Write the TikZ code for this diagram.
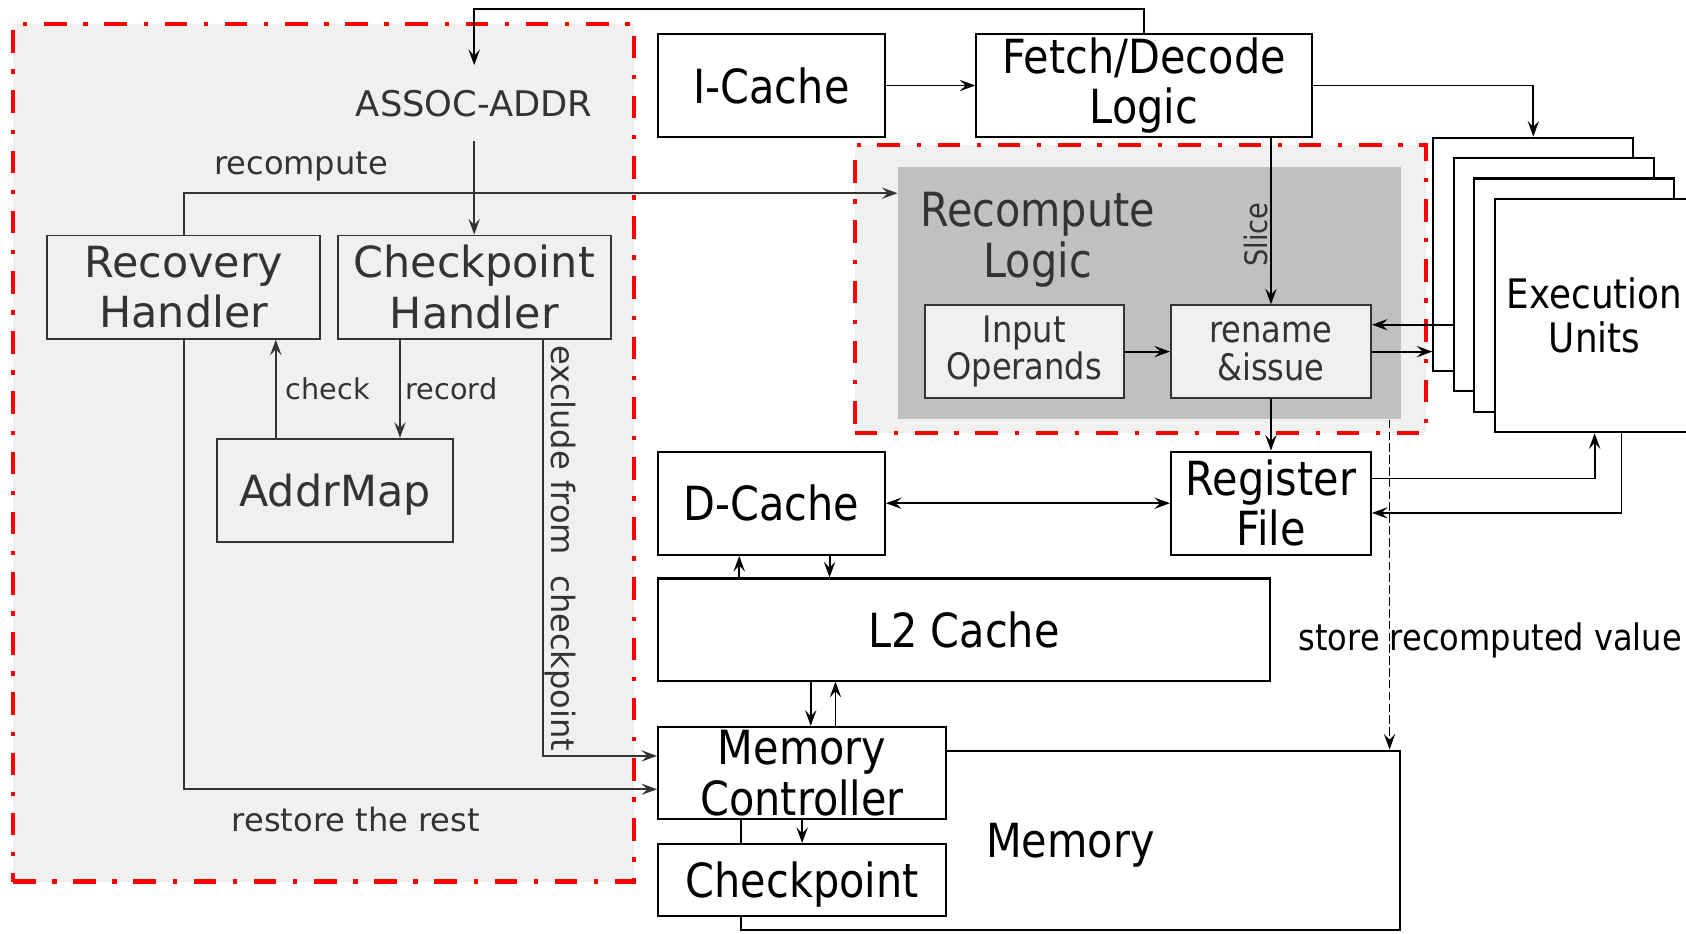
\documentclass[tikz,border=0pt]{standalone}
\usepackage{fontspec}
\setmainfont{DejaVu Sans}
\newfontfamily\condfont[FakeStretch=0.88]{DejaVu Sans}
\usetikzlibrary{arrows.meta,calc}
\definecolor{panel}{HTML}{F0F0F0}
\definecolor{darkpanel}{HTML}{C0C0C0}
\definecolor{ink}{HTML}{333333}
\newcommand\ftLbig{\fontsize{22.7pt}{26.6pt}\selectfont}
\newcommand\ftLmid{\fontsize{18.7pt}{22pt}\selectfont}
\newcommand\ftLsmall{\fontsize{17pt}{20pt}\selectfont}
\newcommand\ftLtiny{\fontsize{15.2pt}{18pt}\selectfont}
\newcommand\ftRbig{\condfont\fontsize{24.9pt}{26.6pt}\selectfont}
\newcommand\ftRmid{\condfont\fontsize{19.3pt}{19.8pt}\selectfont}
\newcommand\ftReu{\condfont\fontsize{21.5pt}{23.2pt}\selectfont}
\newcommand\ftRslice{\condfont\fontsize{16.4pt}{18pt}\selectfont}
\begin{document}
\begin{tikzpicture}[x=0.02cm,y=-0.02cm,
  lbox/.style={draw=ink, line width=1pt, inner sep=0pt, text=ink, font=\ftLbig, align=center},
  rbox/.style={draw=black, fill=white, line width=1.1pt, inner sep=0pt, font=\ftRbig, align=center},
  ibox/.style={draw=ink, fill=panel, line width=1.1pt, inner sep=0pt, text=ink, font=\ftRmid, align=center},
  redframe/.style={draw=red, line width=0.08cm, dash pattern=on 0.42cm off 0.31cm on 0.08cm off 0.31cm, inner sep=0pt},
  arr/.style={-{Stealth[length=0.29cm,width=0.21cm,inset=0.11cm]}, line width=1pt},
  larr/.style={arr, draw=ink},
  darr/.style={{Stealth[length=0.29cm,width=0.21cm,inset=0.11cm]}-{Stealth[length=0.29cm,width=0.21cm,inset=0.11cm]}, line width=1pt},
  dsh/.style={arr, dash pattern=on 0.16cm off 0.06cm, line width=0.75pt},
  ltxt/.style={text=ink},
  sz/.style n args={2}{minimum width=#1cm, minimum height=#2cm},
]
\useasboundingbox (0,0) rectangle (1568,868);
\clip (0,0) rectangle (1568,868);

% ---------- left panel ----------
\node[redframe, fill=panel, sz={11.56}{15.96}] (lp) at (301,421) {};
\node[lbox, sz={5.08}{1.92}] (rh) at (171,267) {Recovery\\Handler};
\node[lbox, sz={5.08}{1.92}] (ch) at (441,267) {Checkpoint\\Handler};
\node[lbox, sz={4.38}{1.92}, text depth=0pt] (am) at (311.5,456) {AddrMap};
\node[ltxt, font=\ftLmid, minimum height=1.4cm] (assoc) at (441,96) {ASSOC-ADDR};
\node[ltxt, font=\ftLsmall] (lrc) at (280,155) {recompute};
\node[ltxt, font=\ftLtiny] (lck) at (305,362) {check};
\node[ltxt, font=\ftLtiny] (lrd) at (420,362) {record};
\node[ltxt, font=\ftLsmall] (lrr) at (331,762) {restore the rest};
\node[ltxt, font=\ftLsmall, rotate=-90, inner sep=0pt] (lex) at (521,510) {exclude from~ checkpoint};

% ---------- recompute region ----------
\node[redframe, fill=panel, sz={10.62}{5.36}] (rr) at (1060.5,269) {};
\node[fill=darkpanel, inner sep=0pt, sz={9.36}{4.7}] (rl) at (1069,272.5) {};
\node[ltxt, font=\ftRbig, align=center] (rlt) at (965,223) {Recompute\\Logic};
\node[ibox, sz={3.7}{1.72}] (io) at (952.5,327) {Input\\Operands};
\node[ibox, sz={3.72}{1.72}] (ri) at (1182,327) {rename\\\&issue};
\node[ltxt, font=\ftRslice, rotate=90, inner sep=0pt] (slice) at (1168,218) {Slice};

% ---------- right boxes ----------
\node[rbox, sz={4.22}{1.9}] (ic) at (717.5,79.5) {I-Cache};
\node[rbox, sz={6.24}{1.9}] (fd) at (1064,79.5) {Fetch/Decode\\Logic};
\node[rbox, sz={3.72}{4.34}] (eu1) at (1426,236.5) {};
\node[rbox, sz={3.72}{4.34}] (eu2) at (1445,255.5) {};
\node[rbox, sz={3.72}{4.34}] (eu3) at (1464,274.5) {};
\node[rbox, sz={3.72}{4.34}, font=\ftReu] (eu4) at (1483,293.5) {Execution\\Units};
\node[rbox, sz={4.22}{1.92}] (dc) at (717.5,468) {D-Cache};
\node[rbox, sz={3.72}{1.92}] (rf) at (1182,468) {Register\\File};
\node[rbox, sz={11.38}{1.9}] (l2) at (896.5,585.5) {L2 Cache};
\node[rbox, sz={12.26}{3.34}, text depth=0pt] (mem) at (995.5,781.5) {Memory};
\node[rbox, sz={5.36}{1.72}] (mc) at (746,719) {Memory\\Controller};
\node[rbox, sz={5.36}{1.34}, text depth=0pt] (cp) at (746,818.5) {Checkpoint};
\node[font=\ftRmid] (srv) at (1386,596) {store recomputed value};

% ---------- connectors: right ----------
\draw[arr] (ic.east) -- (fd.west);
\draw[arr] (fd.north) -- ++(0,-23) -| (assoc.north);
\draw[arr] (fd.east) -| (eu1.north);
\draw[arr] (ri.north |- fd.south) -- (ri.north);
\draw[arr] (io.east) -- (ri.west);
\draw[arr] (ri.east) -- (ri.east -| eu1.west);
\coordinate (ret) at ($(ri.east)+(0,-25)$);
\draw[arr] (ret -| eu2.west) -- (ret);
\draw[arr] (ri.south) -- (rf.north);
\draw[darr] (dc.east) -- (rf.west);
\draw[arr] ($(rf.east)+(0,-23)$) -| (eu4.south);
\draw[arr] ($(eu4.south)+(25,0)$) |- ($(rf.east)+(0,9)$);
\coordinate (a1) at ($(dc.south)+(-30,0)$);
\draw[arr] (a1 |- l2.north) -- (a1);
\coordinate (a2) at ($(dc.south)+(54,0)$);
\draw[arr] (a2) -- (a2 |- l2.north);
\coordinate (b1) at ($(mc.north)+(8,0)$);
\draw[arr] (b1 |- l2.south) -- (b1);
\coordinate (b2) at ($(mc.north)+(31,0)$);
\draw[arr] (b2) -- (b2 |- l2.south);
\draw[arr] (mc.south) -- (cp.north);
\coordinate (ds) at ($(rl.south east)+(-11,0)$);
\draw[dsh] (ds) -- (ds |- mem.north);

% ---------- connectors: left ----------
\draw[larr] (assoc.south) -- (ch.north);
\draw[larr] (rh.north) |- ($(rl.north west)+(0,25)$);
\coordinate (chk) at ($(am.north)+(-55,0)$);
\draw[larr] (chk) -- (chk |- rh.south);
\coordinate (rcd) at ($(ch.south)+(-69,0)$);
\draw[larr] (rcd) -- (rcd |- am.north);
\draw[larr] (rh.south) |- ($(mc.west)+(0,15)$);
\draw[larr] ($(ch.south)+(64,0)$) |- ($(mc.west)+(0,-16)$);
\end{tikzpicture}
\end{document}
